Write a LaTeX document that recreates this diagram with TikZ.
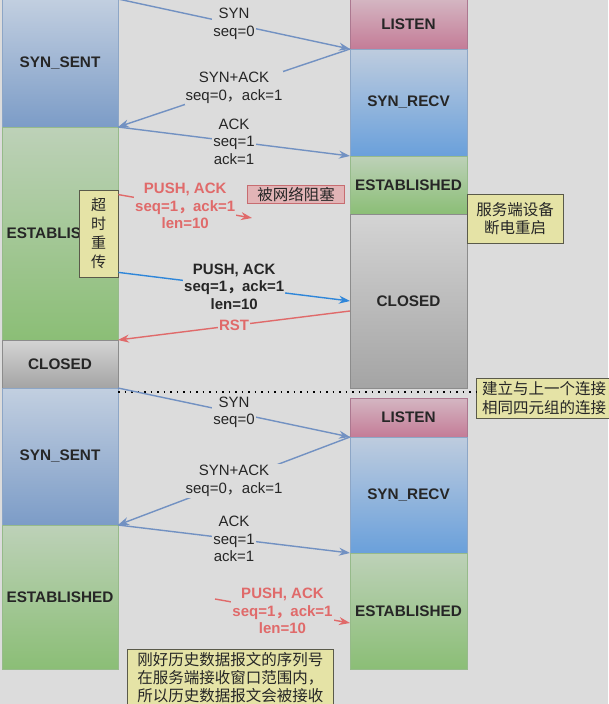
\documentclass[tikz,border=0pt]{standalone}
\usepackage{fontspec}
\setmainfont{Liberation Sans}
\newfontfamily\cjk{Noto Sans CJK SC}
\usetikzlibrary{calc,positioning,arrows.meta}
\definecolor{bg}{HTML}{DCDCDC}
\definecolor{hsblue}{HTML}{7291C2}
\definecolor{pushblue}{HTML}{2F86D9}
\definecolor{lostred}{HTML}{E06A6A}
\definecolor{blueline}{HTML}{8DA6C6}
\definecolor{greenline}{HTML}{96BA8A}
\definecolor{grayline}{HTML}{8C8C8C}
\definecolor{pinkline}{HTML}{AC7890}
\definecolor{noteline}{HTML}{5A5A4A}
\definecolor{notefill}{HTML}{E5E3A6}
\newcommand\fwc{{\cjk ，}}

\begin{document}
\begin{tikzpicture}[x=1pt,y=-1pt,
  stbox/.style={draw, outer sep=0pt, inner sep=0pt, text=black!85,
    font=\fontsize{15.3}{17}\selectfont\bfseries},
  lbox/.style={stbox, minimum width=116},
  rbox/.style={stbox, minimum width=117},
  sentc/.style={draw=blueline, top color={rgb,255:red,194;green,207;blue,224}, bottom color={rgb,255:red,124;green,156;blue,199}},
  recvc/.style={draw=blueline, top color={rgb,255:red,190;green,204;blue,222}, bottom color={rgb,255:red,106;green,160;blue,219}},
  estc/.style={draw=greenline, top color={rgb,255:red,189;green,209;blue,184}, bottom color={rgb,255:red,139;green,190;blue,118}},
  closedc/.style={draw=grayline, top color={rgb,255:red,212;green,212;blue,212}, bottom color={rgb,255:red,164;green,164;blue,164}},
  listenc/.style={draw=pinkline, top color={rgb,255:red,212;green,182;blue,194}, bottom color={rgb,255:red,196;green,124;blue,151}},
  msg/.style={line width=1.4pt, -{Stealth[length=11pt,width=8pt]}},
  lbl/.style={fill=bg, inner sep=1pt, align=center, text=black!85, font=\fontsize{15}{17.5}\selectfont},
  redlbl/.style={lbl, text=lostred, font=\fontsize{15}{17.5}\selectfont\bfseries},
  note/.style={draw=noteline, fill=notefill, line width=0.8pt, inner sep=0pt, align=center,
    text=black!85, font=\cjk\fontsize{15.5}{19.5}\selectfont}
]
  \fill[bg] (0,0) rectangle (608,704);
  \useasboundingbox (0,0) rectangle (608,704);

  \node[lbox, sentc, minimum height=128, anchor=north west] (ssent1) at (2,-1) {SYN\_SENT};
  \node[lbox, estc, minimum height=213, below=0pt of ssent1] (est1) {ESTABLISHED};
  \node[lbox, closedc, minimum height=48, below=0pt of est1] (closed1) {CLOSED};
  \node[lbox, sentc, minimum height=137, below=0pt of closed1] (ssent2) {SYN\_SENT};
  \node[lbox, estc, minimum height=144, below=0pt of ssent2] (est2) {ESTABLISHED};

  \node[rbox, listenc, minimum height=50, anchor=north west] (listen1) at (350,-1) {LISTEN};
  \node[rbox, recvc, minimum height=107, below=0pt of listen1] (srecv1) {SYN\_RECV};
  \node[rbox, estc, minimum height=58, below=0pt of srecv1] (sest1) {ESTABLISHED};
  \node[rbox, closedc, minimum height=174, below=0pt of sest1] (sclosed1) {CLOSED};
  \node[rbox, listenc, minimum height=39, anchor=north west] (listen2) at (350,398) {LISTEN};
  \node[rbox, recvc, minimum height=116, below=0pt of listen2] (srecv2) {SYN\_RECV};
  \node[rbox, estc, minimum height=116, below=0pt of srecv2] (sest2) {ESTABLISHED};

  \node[note, minimum width=39, minimum height=87, font=\cjk\fontsize{15}{19}\selectfont] (retx) at (98.5,233.5) {超\\时\\重\\传};
  \node[note, draw={rgb,255:red,199;green,108;blue,112}, fill={rgb,255:red,226;green,180;blue,182}, minimum width=97, minimum height=18] (blocked) at (296,194) {被网络阻塞};
  \node[note, minimum width=96, minimum height=49, font=\cjk\fontsize{15.5}{18.5}\selectfont] (reboot) at (515,218.5) {服务端设备\\断电重启};
  \node[note, minimum width=136, minimum height=40, font=\cjk\fontsize{15.5}{19}\selectfont] (oldconn) at (544,398) {建立与上一个连接\\相同四元组的连接};
  \node[note, minimum width=206, minimum height=56, anchor=north west, align=left, font=\cjk\fontsize{15.5}{18}\selectfont] (replay) at (127,649) {刚好历史数据报文的序列号\\在服务端接收窗口范围内，\\所以历史数据报文会被接收};

  \coordinate (lost1) at (252,218);
  \coordinate (replay1) at (215,599);

  \draw[msg, hsblue] (ssent1.north east) -- node[lbl] {SYN\\seq=0} (srecv1.north west);
  \draw[msg, hsblue] (srecv1.north west) -- node[lbl] {SYN+ACK\\seq=0\fwc ack=1} (ssent1.south east);
  \draw[msg, hsblue] (ssent1.south east) -- node[lbl] {ACK\\seq=1\\ack=1} (sest1.north west);
  \draw[msg, lostred] ($(retx.north east)+(0,5)$) -- node[redlbl] {PUSH, ACK\\seq=1\fwc ack=1\\len=10} (lost1);
  \draw[msg, pushblue] ($(retx.south east)+(0,-5)$) -- node[lbl, font=\fontsize{15}{17.5}\selectfont\bfseries] {PUSH, ACK\\seq=1\fwc ack=1\\len=10} (sclosed1.west);
  \draw[msg, lostred] ($(sclosed1.west)+(0,10)$) -- node[redlbl] {RST} (est1.south east);

  \draw[line width=1.5pt, dash pattern=on 1.5pt off 5pt] ($(ssent2.north east)+(0,4)$) -- ($(oldconn.west)+(0,-6)$);

  \draw[msg, hsblue] (ssent2.north east) -- node[lbl] {SYN\\seq=0} (srecv2.north west);
  \draw[msg, hsblue] (srecv2.north west) -- node[lbl] {SYN+ACK\\seq=0\fwc ack=1} (ssent2.south east);
  \draw[msg, hsblue] (ssent2.south east) -- node[lbl] {ACK\\seq=1\\ack=1} (sest2.north west);
  \draw[msg, lostred] (replay1) -- node[redlbl] {PUSH, ACK\\seq=1\fwc ack=1\\len=10} ($(sest2.west)+(0,12)$);
\end{tikzpicture}
\end{document}
